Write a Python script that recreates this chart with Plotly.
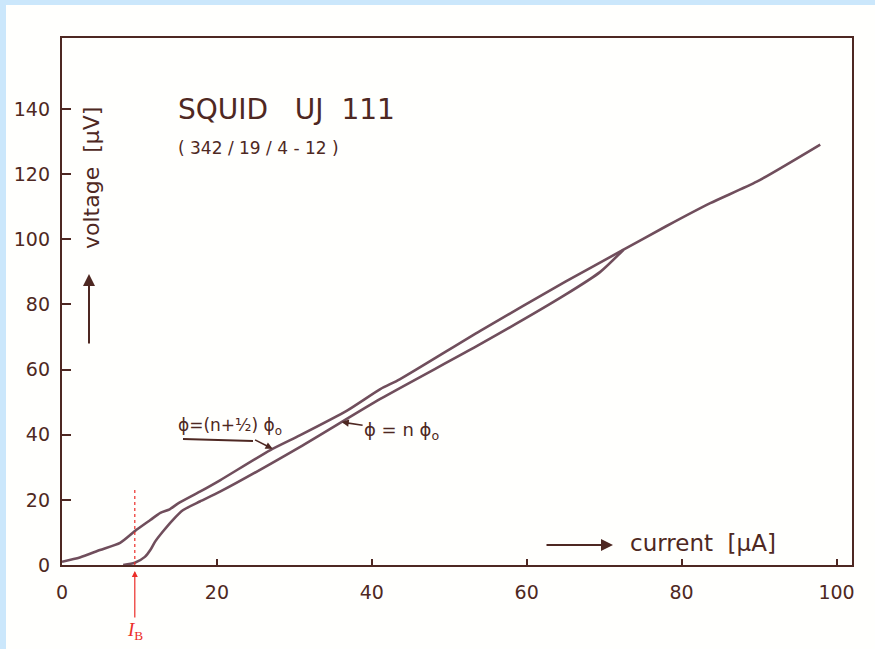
import plotly.graph_objects as go

# Measured I-V characteristic of the SQUID, two flux states
current_half = [0, 2.3, 4.9, 7.5, 9.4, 11.4, 12.7, 13.9, 15, 17.8, 20.4, 26.9, 30.7,
                36.8, 41.1, 43.6, 54, 65, 72.5, 78, 83.7, 89.7, 97.9]
voltage_half = [1, 2.3, 4.6, 6.8, 10.4, 13.8, 16, 17.1, 18.9, 22.5, 26, 35.3, 39.8,
                47.4, 54, 57, 71.9, 87, 96.8, 104, 111.1, 117.7, 129.1]

current_int = [7.9, 9.4, 10.7, 11.4, 12, 13, 14.3, 15.6, 17.8, 20.4, 30.7, 41.1, 54,
               65, 69.5, 72.5]
voltage_int = [0, 0.7, 2.5, 4.6, 7.1, 10.2, 13.8, 16.8, 19.5, 22.5, 36.2, 51, 67.8,
               83, 90, 96.8]

bias_current = 9.4          # I_B marker
x_ticks = [0, 20, 40, 60, 80, 100]
y_ticks = [0, 20, 40, 60, 80, 100, 120, 140]

W, H = 875, 649
ML, MR, MT, MB = 62, 23, 38, 84
X_MAX, Y_MAX = 102, 161.8
PW, PH = W - ML - MR, H - MT - MB

INK = "rgb(78,40,34)"
CURVE = "rgb(112,78,92)"
RED = "rgb(235,45,40)"
FONT = "DejaVu Sans"


def px_x(px):
    return (px - ML) / PW


def px_y(py):
    return (H - MB - py) / PH


def interp(xs, ys, x):
    for i in range(len(xs) - 1):
        if xs[i] <= x <= xs[i + 1]:
            t = (x - xs[i]) / (xs[i + 1] - xs[i])
            return ys[i] + t * (ys[i + 1] - ys[i])
    return ys[-1]


fig = go.Figure()
fig.add_trace(go.Scatter(x=current_half, y=voltage_half, mode="lines",
                         line=dict(color=CURVE, width=2.6, shape="spline", smoothing=0.6),
                         hoverinfo="skip", showlegend=False))
fig.add_trace(go.Scatter(x=current_int, y=voltage_int, mode="lines",
                         line=dict(color=CURVE, width=2.6, shape="spline", smoothing=0.6),
                         hoverinfo="skip", showlegend=False))

shapes = [
    # paper sheet over the blue scanner border
    dict(type="rect", xref="paper", yref="paper", x0=px_x(6), x1=px_x(W + 10),
         y0=px_y(H + 10), y1=px_y(5), fillcolor="#fffffd", line=dict(width=0), layer="below"),
    # dotted bias-current marker
    dict(type="line", xref="x", yref="y", x0=bias_current, x1=bias_current, y0=0, y1=23,
         line=dict(color=RED, width=1.2, dash="dot")),
    # underline of the half-flux label
    dict(type="line", xref="paper", yref="paper", x0=px_x(183), x1=px_x(253),
         y0=px_y(439), y1=px_y(441), line=dict(color=INK, width=1.8)),
]

half_tip_x = 27.2
int_tip_x = 36.1

annotations = [
    dict(text="SQUID&nbsp;&nbsp; UJ&nbsp; 111", x=px_x(176), y=px_y(110),
         xref="paper", yref="paper", xanchor="left", yanchor="middle", showarrow=False,
         font=dict(family=FONT, size=28, color=INK)),
    dict(text="( 342 / 19 / 4 - 12 )", x=px_x(176), y=px_y(148),
         xref="paper", yref="paper", xanchor="left", yanchor="middle", showarrow=False,
         font=dict(family=FONT, size=17, color=INK)),
    dict(text="voltage  [µV]", x=px_x(91), y=px_y(178), textangle=-90,
         xref="paper", yref="paper", xanchor="center", yanchor="middle", showarrow=False,
         font=dict(family=FONT, size=22, color=INK)),
    dict(text="", x=px_x(89), y=px_y(274), ax=0, ay=71, xref="paper", yref="paper",
         showarrow=True, arrowhead=2, arrowsize=1.2, arrowwidth=2, arrowcolor=INK),
    dict(text="current  [µA]", x=px_x(628), y=px_y(543),
         xref="paper", yref="paper", xanchor="left", yanchor="middle", showarrow=False,
         font=dict(family=FONT, size=23, color=INK)),
    dict(text="", x=px_x(613), y=px_y(545), ax=-68, ay=0, xref="paper", yref="paper",
         showarrow=True, arrowhead=2, arrowsize=1.2, arrowwidth=2, arrowcolor=INK),
    # flux-state labels with leaders to their curves
    dict(text="ϕ=(n+½) ϕ<sub>o</sub>", x=half_tip_x,
         y=interp(current_half, voltage_half, half_tip_x), xref="x", yref="y",
         ax=-43, ay=-22, showarrow=True, arrowhead=2, arrowsize=0.9, arrowwidth=1.6,
         arrowcolor=INK, font=dict(family=FONT, size=17, color=INK)),
    dict(text="ϕ = n ϕ<sub>o</sub>", x=int_tip_x,
         y=interp(current_int, voltage_int, int_tip_x), xref="x", yref="y",
         ax=60, ay=9, showarrow=True, arrowhead=2, arrowsize=0.9, arrowwidth=1.6,
         arrowcolor=INK, font=dict(family=FONT, size=18, color=INK)),
    # bias current label and pointer below the axis
    dict(text="<i>I</i><sub>B</sub>", x=bias_current, y=px_y(571), xref="x", yref="paper",
         ax=0, ay=60, showarrow=True, arrowhead=2, arrowsize=1, arrowwidth=1.2,
         arrowcolor=RED, font=dict(family="Liberation Serif", size=19, color=RED)),
]

fig.update_layout(
    width=W, height=H,
    margin=dict(l=ML, r=MR, t=MT, b=MB, pad=0),
    paper_bgcolor="#cbe7fb",
    plot_bgcolor="#fffffd",
    shapes=shapes,
    annotations=annotations,
    showlegend=False,
)
axis_common = dict(showgrid=False, zeroline=False, showline=True, linecolor=INK,
                   linewidth=2.4, mirror=True, ticks="inside", tickcolor=INK,
                   tickwidth=2, fixedrange=True,
                   tickfont=dict(family=FONT, size=19, color=INK))
fig.update_xaxes(range=[0, X_MAX], tickvals=x_ticks, ticklen=6, ticklabelstandoff=9,
                 **axis_common)
fig.update_yaxes(range=[0, Y_MAX], tickvals=y_ticks, ticklen=9, ticklabelstandoff=6,
                 **axis_common)

fig.write_html("out.html")
